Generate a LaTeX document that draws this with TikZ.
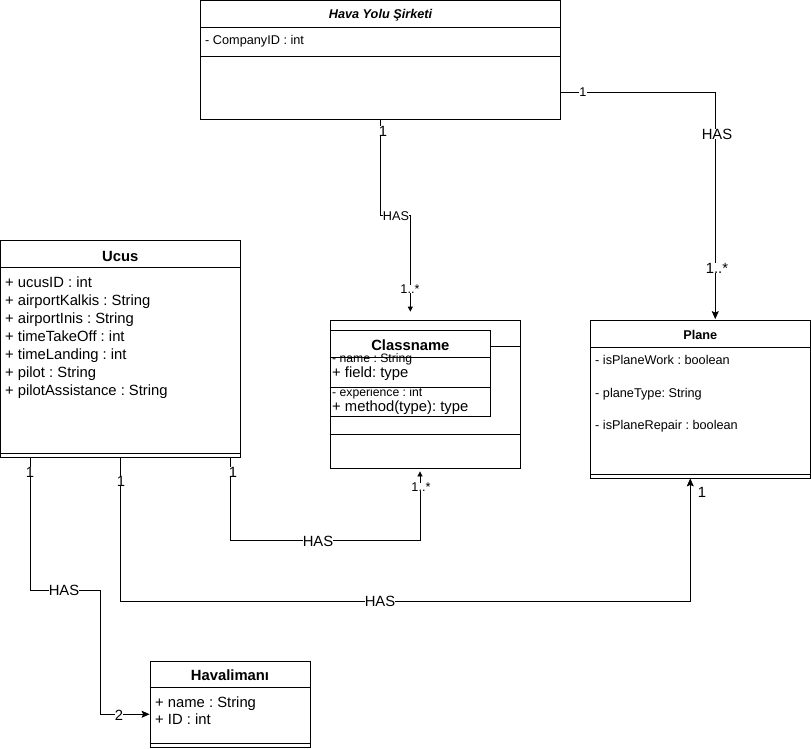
\documentclass[tikz,border=0pt]{standalone}
\usepackage{fontspec}
\setmainfont{Liberation Sans}
\frenchspacing
\usetikzlibrary{arrows.meta,positioning}
\tikzset{
  umlbox/.style={draw, line width=0.8pt, inner sep=0pt},
  sepline/.style={line width=0.8pt},
  smalltxt/.style={font=\fontsize{12.7}{14}\selectfont, inner sep=0pt},
  bigtxt/.style={font=\fontsize{14.8}{17}\selectfont, inner sep=0pt},
  lbl/.style={fill=white, inner sep=1pt},
  link/.style={line width=0.8pt, -{Stealth[length=8pt,width=7pt,inset=1.5pt]}},
  smalllink/.style={line width=0.8pt, -{Triangle[length=5pt,width=5pt]}},
}
\begin{document}
\begin{tikzpicture}[x=1pt,y=-1pt]
\useasboundingbox (0,0) rectangle (811,749);

% Hava Yolu Sirketi
\node[umlbox, minimum width=360pt, minimum height=119pt] (airline) at (380.5,60) {};
\draw[sepline] (airline.west |- 0,27) -- (airline.east |- 0,27);
\draw[sepline] (airline.west |- 0,56) -- (airline.east |- 0,56);
\node[smalltxt, anchor=base, font=\fontsize{12.7}{14}\selectfont\bfseries\itshape] (airlinetitle) at (380.5,18.5) {Hava Yolu Şirketi};
\node[smalltxt, anchor=base west] (companyid) at (205,45) {- CompanyID : int};

% Ucus
\node[umlbox, minimum width=239.5pt, minimum height=217pt] (ucus) at (120.25,348.5) {};
\draw[sepline] (ucus.west |- 0,267) -- (ucus.east |- 0,267);
\draw[sepline] (ucus.west |- 0,453) -- (ucus.east |- 0,453);
\node[bigtxt, anchor=base, font=\fontsize{14.8}{17}\selectfont\bfseries] (ucustitle) at (120.25,261.5) {Ucus};
\foreach \attr [count=\i] in {+ ucusID : int, + airportKalkis : String, + airportInis : String,
  + timeTakeOff : int, + timeLanding : int, + pilot : String, + pilotAssistance : String}
  \node[bigtxt, anchor=base west] (ucusattr\i) at (5,269+18*\i) {\attr};

% Classname
\node[umlbox, minimum width=190pt, minimum height=148pt] (outer) at (425,394) {};
\draw[sepline] (outer.west |- 0,434) -- (outer.east |- 0,434);
\node[umlbox, minimum width=160.7pt, minimum height=86.7pt] (inner) at (410.35,373.35) {};
\draw[sepline] (inner.west |- 0,357) -- (inner.east |- 0,357);
\draw[sepline] (inner.west |- 0,387) -- (inner.east |- 0,387);
\draw[sepline] (inner.east |- 0,346) -- (outer.east |- 0,346);
\node[bigtxt, anchor=base, font=\fontsize{14.8}{17}\selectfont\bfseries] (classtitle) at (410.35,350.5) {Classname};
\node[smalltxt, anchor=base west, font=\fontsize{12.2}{13}\selectfont] (nameattr) at (332,362.5) {- name : String};
\node[bigtxt, anchor=base west] (fieldattr) at (332,377.5) {+ field: type};
\node[smalltxt, anchor=base west, font=\fontsize{12.2}{13}\selectfont] (expattr) at (332,396.5) {- experience : int};
\node[bigtxt, anchor=base west] (methodattr) at (332,411.5) {+ method(type): type};

% Plane
\node[umlbox, minimum width=219.5pt, minimum height=157.5pt] (plane) at (700.25,399.25) {};
\draw[sepline] (plane.west |- 0,347) -- (plane.east |- 0,347);
\draw[sepline] (plane.west |- 0,474) -- (plane.east |- 0,474);
\node[smalltxt, anchor=base, font=\fontsize{12.7}{14}\selectfont\bfseries] (planetitle) at (700.25,339) {Plane};
\node[smalltxt, anchor=base west] (planework) at (595,364.7) {- isPlaneWork : boolean};
\node[smalltxt, anchor=base west] (planetype) at (595,397.3) {- planeType: String};
\node[smalltxt, anchor=base west] (planerepair) at (595,429) {- isPlaneRepair : boolean};

% Havalimani
\node[umlbox, minimum width=160pt, minimum height=86.5pt] (airport) at (230,704.25) {};
\draw[sepline] (airport.west |- 0,687) -- (airport.east |- 0,687);
\draw[sepline] (airport.west |- 0,743.5) -- (airport.east |- 0,743.5);
\node[bigtxt, anchor=base, font=\fontsize{14.8}{17}\selectfont\bfseries] (airporttitle) at (230,680.7) {Havalimanı};
\node[bigtxt, anchor=base west] (airportname) at (155,707.7) {+ name : String};
\node[bigtxt, anchor=base west] (airportid) at (155,724.3) {+ ID : int};

% Baglantilar
\draw[smalllink, shorten >=8pt] (airline.south) -- ++(0,95) -| (inner.north |- outer.north);
\draw[link, shorten >=1pt] ([yshift=-32pt]airline.east) -| ([xshift=15pt]plane.north);
\draw[smalllink, shorten >=3pt] ([xshift=110pt]ucus.south) -- ++(0,83) -| ([xshift=-5pt]outer.south);
\draw[link] (ucus.south) -- ++(0,144) -| ([xshift=-10pt]plane.south);
\draw[link] ([xshift=-90pt]ucus.south) -- ++(0,133) -- ++(70,0) |- ([yshift=-10pt]airport.west);

% Etiketler
\node[lbl, bigtxt] (m1) at (383,131) {1};
\node[lbl, smalltxt] (has1) at (396,216) {HAS};
\node[lbl, smalltxt] (m2) at (410,289) {1..*};
\node[lbl, smalltxt] (m3) at (583,92) {1};
\node[lbl, bigtxt] (has2) at (717,134) {HAS};
\node[lbl, bigtxt] (m4) at (717,268) {1..*};
\node[lbl, bigtxt] (m5) at (233,472) {1};
\node[lbl, bigtxt] (has3) at (318,541) {HAS};
\node[lbl, smalltxt] (m6) at (421,487) {1..*};
\node[lbl, bigtxt] (m7) at (121,481) {1};
\node[lbl, bigtxt] (has4) at (380,601) {HAS};
\node[bigtxt] (m8) at (702,492) {1};
\node[lbl, bigtxt] (m9) at (30,472) {1};
\node[lbl, bigtxt] (has5) at (64,590) {HAS};
\node[lbl, bigtxt] (m10) at (119,715) {2};

\end{tikzpicture}
\end{document}
